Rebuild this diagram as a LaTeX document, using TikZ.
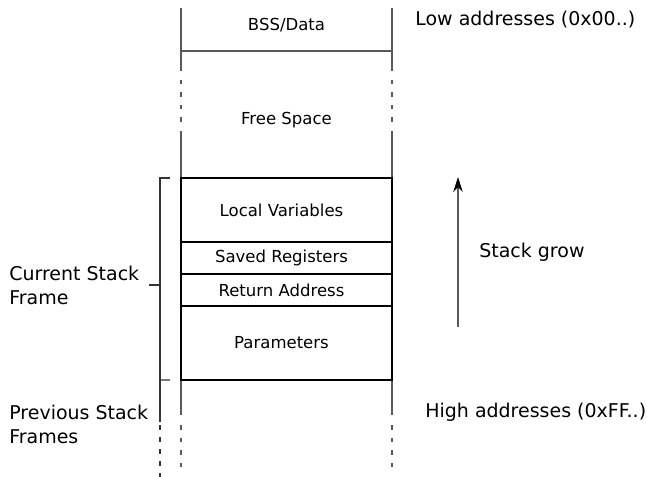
\documentclass[tikz,border=0pt]{standalone}
\usepackage{fontspec}
\setmainfont{DejaVu Sans}
\usetikzlibrary{arrows.meta, positioning, calc}

\begin{document}
\begin{tikzpicture}[
    cell/.style={draw=black, line width=0.6pt, minimum width=4.22cm,
                 inner sep=0pt, outer sep=0pt, font=\fontsize{9.4}{11}\selectfont,
                 execute at end node=\kern0.2cm},
    area/.style={inner sep=0pt, font=\fontsize{9.4}{11}\selectfont},
    lbl/.style={inner sep=0pt, anchor=west, align=left,
                font=\fontsize{10.8}{13.6}\selectfont},
    wall/.style={draw=black!65, line width=0.6pt},
    gap/.style={wall, dash pattern=on 0.09cm off 0.16cm},
    brace/.style={draw=black!80, line width=0.6pt},
    >={Stealth[length=3mm, width=1.9mm, black]},
]
\useasboundingbox (0,0) rectangle (12.94,-9.54);

% memory column
\node[area] (bss)  at (5.73,-0.50) {BSS/Data};
\node[area] (free) at (5.73,-2.40) {Free Space};
\foreach \x in {3.62,7.84} {
  \draw[wall] (\x,-0.16) -- (\x,-1.42);
  \draw[gap]  (\x,-1.60) -- (\x,-2.46);
  \draw[wall] (\x,-2.62) -- (\x,-3.56);
  \draw[wall] (\x,-7.60) -- (\x,-8.30);
  \draw[gap]  (\x,-8.50) -- (\x,-9.38);
}
\draw[wall] (3.62,-1.02) -- (7.84,-1.02);

% current frame
\node[cell, minimum height=1.28cm, anchor=north west] (locals) at (3.62,-3.56) {Local Variables};
\node[cell, minimum height=0.64cm, below=0pt of locals] (saved) {Saved Registers};
\node[cell, minimum height=0.64cm, below=0pt of saved] (ret) {Return Address};
\node[cell, minimum height=1.48cm, below=0pt of ret] (params) {Parameters};

% brackets on the left
\node[lbl] (cur)  at (0.18,-5.70) {Current Stack\\Frame};
\node[lbl] (prev) at (0.18,-8.48) {Previous Stack\\Frames};
\draw[brace] ($(locals.north west)+(-0.22,0)$) -- (3.20,-3.56) -- (3.20,-8.44);
\draw[brace] (3.20,-7.60) -- ($(params.south west)+(-0.22,0)$);
\draw[brace] (3.20,-5.70) -- (2.98,-5.70);
\draw[brace, dash pattern=on 0.1cm off 0.14cm] (3.20,-8.50) -- (3.20,-9.54);

% addresses and growth
\node[lbl] (low)  at (8.30,-0.40) {Low addresses (0x00..)};
\node[lbl] (high) at (8.50,-8.24) {High addresses (0xFF..)};
\coordinate (growfoot) at (9.16,-6.54);
\coordinate (growhead) at (9.16,-3.54);
\draw[->, wall] (growfoot) -- (growhead);
\node[lbl] (grow) at (9.58,-5.04) {Stack grow};
\end{tikzpicture}
\end{document}
